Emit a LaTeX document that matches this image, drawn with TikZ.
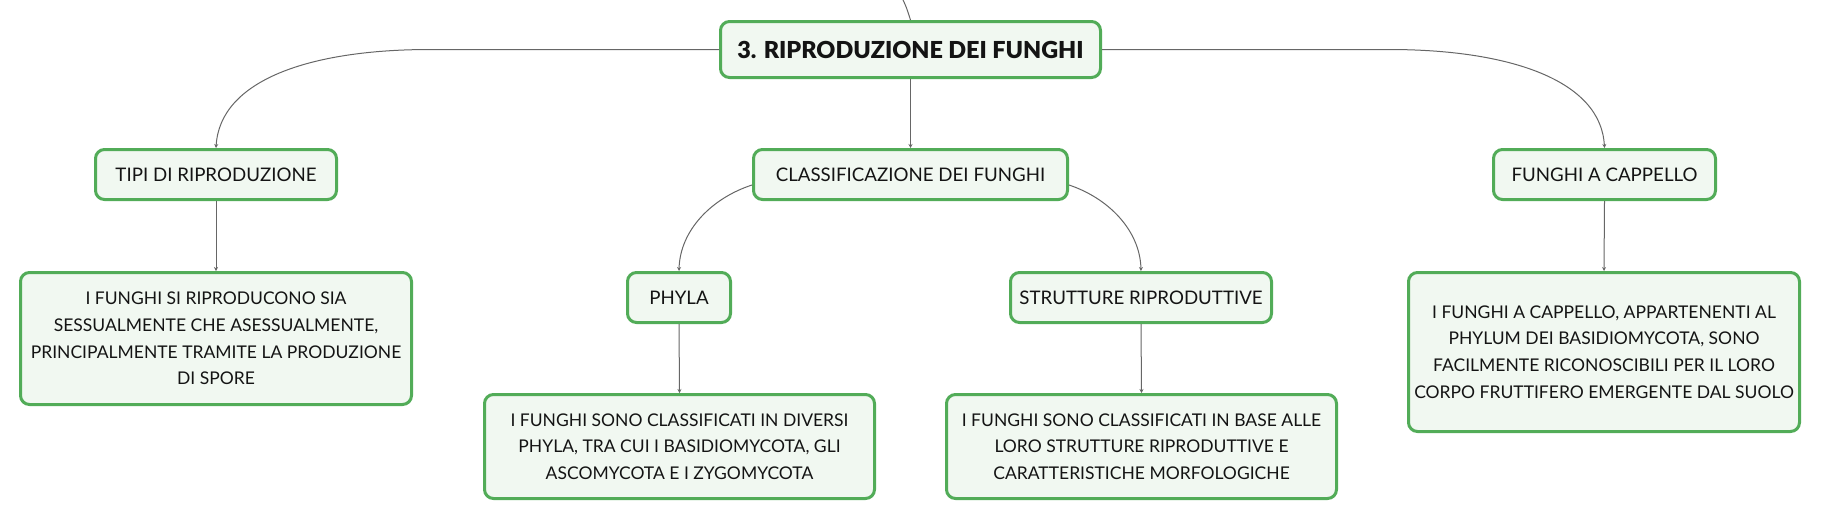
\documentclass[tikz,border=0pt]{standalone}
\usepackage{fontspec}
\setmainfont{Lato}
\newfontfamily\titlefont{Lato Black}
\usetikzlibrary{arrows.meta,calc}
\definecolor{bordergreen}{HTML}{52AC58}
\definecolor{fillgreen}{HTML}{F1F8F1}
\definecolor{linegray}{HTML}{666666}
\definecolor{textblack}{HTML}{141414}
\tikzset{
 box/.style={draw=bordergreen, line width=3pt, fill=fillgreen, rounded corners=9pt, inner sep=0pt, align=center, text=textblack, font=\fontsize{17.5}{26.7}\selectfont},
 label/.style={box, minimum height=50pt, font=\fontsize{18.7}{22}\selectfont},
 link/.style={draw=linegray, line width=1pt, -{Stealth[length=4pt,width=4pt]}},
 plain/.style={draw=linegray, line width=1pt},
}
\begin{document}
\begin{tikzpicture}[x=1pt,y=-1pt]
\useasboundingbox (0,0) rectangle (1821,520);
\node[box, minimum width=380pt, minimum height=56pt, font=\fontsize{23.4}{28}\titlefont] (main) at (910.5,49.5) {3. RIPRODUZIONE DEI FUNGHI};
\node[label, minimum width=314pt] (cls) at (910.5,174.5) {CLASSIFICAZIONE DEI FUNGHI};
\node[label, minimum width=241pt] (tipi) at (216,174.5) {TIPI DI RIPRODUZIONE};
\node[label, minimum width=222pt] (cap) at (1604.5,174.5) {FUNGHI A CAPPELLO};
\node[box, minimum width=391pt, minimum height=132pt] (tipit) at (216,338.5) {I FUNGHI SI RIPRODUCONO SIA\\SESSUALMENTE CHE ASESSUALMENTE,\\PRINCIPALMENTE TRAMITE LA PRODUZIONE\\DI SPORE};
\node[box, minimum width=391pt, minimum height=159pt] (capt) at (1604,352) {I FUNGHI A CAPPELLO, APPARTENENTI AL\\PHYLUM DEI BASIDIOMYCOTA, SONO\\FACILMENTE RICONOSCIBILI PER IL LORO\\CORPO FRUTTIFERO EMERGENTE DAL SUOLO};
\node[label, minimum width=103pt] (phyla) at (679,297.5) {PHYLA};
\node[box, minimum width=390pt, minimum height=104pt] (phylat) at (679.5,446.5) {I FUNGHI SONO CLASSIFICATI IN DIVERSI\\PHYLA, TRA CUI I BASIDIOMYCOTA, GLI\\ASCOMYCOTA E I ZYGOMYCOTA};
\node[label, minimum width=261pt] (strut) at (1141,297.5) {STRUTTURE RIPRODUTTIVE};
\node[box, minimum width=390pt, minimum height=104pt] (strutt) at (1141.5,446.5) {I FUNGHI SONO CLASSIFICATI IN BASE ALLE\\LORO STRUTTURE RIPRODUTTIVE E\\CARATTERISTICHE MORFOLOGICHE};
\coordinate (topc) at (903,0);
\coordinate (lbend) at (430,49.5);
\coordinate (rbend) at (1389,49.5);
\coordinate (clsl) at ($(cls.west)+(0,10.5)$);
\coordinate (clsr) at ($(cls.east)+(0,10.5)$);
\draw[plain] (topc) .. controls (907,8) and (908.5,14) .. (main.north);
\draw[link] (main.west) -- (lbend) .. controls (310,49.5) and (220,80) .. (tipi.north);
\draw[link] (main.east) -- (rbend) .. controls (1509,49.5) and (1601,80) .. (cap.north);
\draw[link] (main.south) -- (cls.north);
\draw[link] (tipi.south) -- (tipit.north);
\draw[link] (cap.south) -- (capt.north);
\draw[link] (clsl) .. controls (712,198) and (680,230) .. (phyla.north);
\draw[link] (clsr) .. controls (1108,198) and (1140,230) .. (strut.north);
\draw[link] (phyla.south) -- (phylat.north);
\draw[link] (strut.south) -- (strutt.north);
\end{tikzpicture}
\end{document}
